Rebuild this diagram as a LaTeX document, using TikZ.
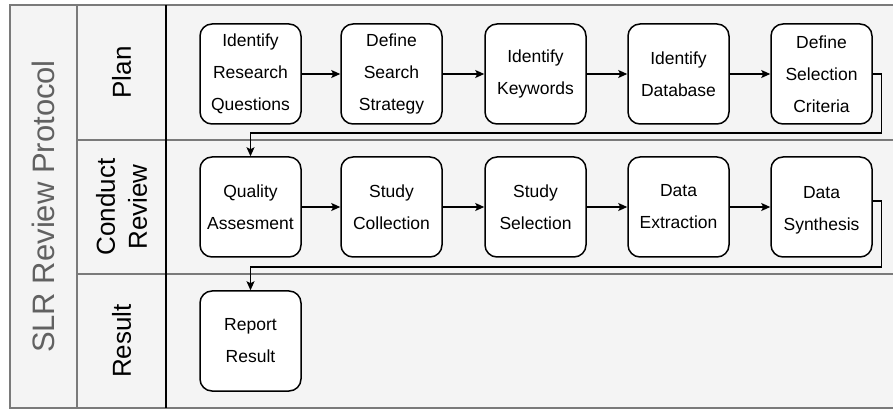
\documentclass[tikz,border=0pt]{standalone}
\usepackage{fontspec}
\setmainfont{Liberation Sans}
\usetikzlibrary{arrows.meta}

\begin{document}
\begin{tikzpicture}[x=1pt, y=-1pt,
		laneline/.style={draw=lanegray, line width=1.6pt},
		stepbox/.style={draw=black, fill=white, line width=1.5pt, rounded corners=12pt,
			minimum width=101pt, minimum height=100pt, inner sep=0pt, align=center,
			font=\fontsize{17.5}{32}\selectfont},
		lanelabel/.style={rotate=90, align=center, font=\fontsize{26}{32}\selectfont},
		flow/.style={draw=black, line width=1.3pt, -{Stealth[length=9pt, width=8pt, inset=2pt]}}]
		\definecolor{lanegray}{HTML}{7A7A7A}
		\definecolor{lanefill}{HTML}{F4F4F4}
		\clip (0, 0) rectangle (893, 411);
		%%%%% START %%%%%
		\fill[white] (0, 0) rectangle (893, 411);
		\fill[lanefill] (10, 5) rectangle (900, 408);
		
		\draw[laneline] (900, 5) -- (10, 5) -- (10, 408) -- (900, 408);
		\draw[laneline] (77, 5) -- (77, 408);
		\draw[laneline] (77, 140) -- (900, 140);
		\draw[laneline] (77, 274) -- (900, 274);
		\draw[line width=1.6pt] (166, 5) -- (166, 408);
		
		\node[lanelabel, text=black!62, font=\fontsize{31}{36}\selectfont] (protocol) at (43.5, 206.5) {SLR Review Protocol};
		\node[lanelabel] (plan) at (121.5, 72.5) {Plan};
		\node[lanelabel] (conduct) at (121.5, 207) {Conduct\\Review};
		\node[lanelabel] (result) at (121.5, 341) {Result};
		
		%% plan
		\node[stepbox] (questions) at (250.5, 74) {Identify\\Research\\Questions};
		\node[stepbox] (strategy) at (391.5, 74) {Define\\Search\\Strategy};
		\node[stepbox] (keywords) at (535.5, 74) {Identify\\Keywords};
		\node[stepbox] (database) at (678.5, 74) {Identify\\Database};
		\node[stepbox] (criteria) at (821.5, 74) {Define\\Selection\\Criteria};
		
		%% conduct review
		\node[stepbox] (quality) at (250.5, 207) {Quality\\Assesment};
		\node[stepbox] (collection) at (391.5, 207) {Study\\Collection};
		\node[stepbox] (selection) at (535.5, 207) {Study\\Selection};
		\node[stepbox] (extraction) at (678.5, 207) {Data\\Extraction};
		\node[stepbox, text height=50pt] (synthesis) at (821.5, 207) {Data\\Synthesis};
		
		%% result
		\node[stepbox] (report) at (250.5, 341) {Report\\Result};
		
		\coordinate (turnA) at (0, 133);
		\coordinate (turnB) at (0, 267);
		
		\draw[flow] (questions) -- (strategy);
		\draw[flow] (strategy) -- (keywords);
		\draw[flow] (keywords) -- (database);
		\draw[flow] (database) -- (criteria);
		\draw[flow] (criteria.east) -- ++(9, 0) |- (quality.north |- turnA) -- (quality.north);
		
		\draw[flow] (quality) -- (collection);
		\draw[flow] (collection) -- (selection);
		\draw[flow] (selection) -- (extraction);
		\draw[flow] (extraction) -- (synthesis);
		\draw[flow] ([yshift=6pt]synthesis.east) -- ++(9, 0) |- (report.north |- turnB) -- (report.north);
		%%%%% END %%%%%
	\end{tikzpicture}
\end{document}
